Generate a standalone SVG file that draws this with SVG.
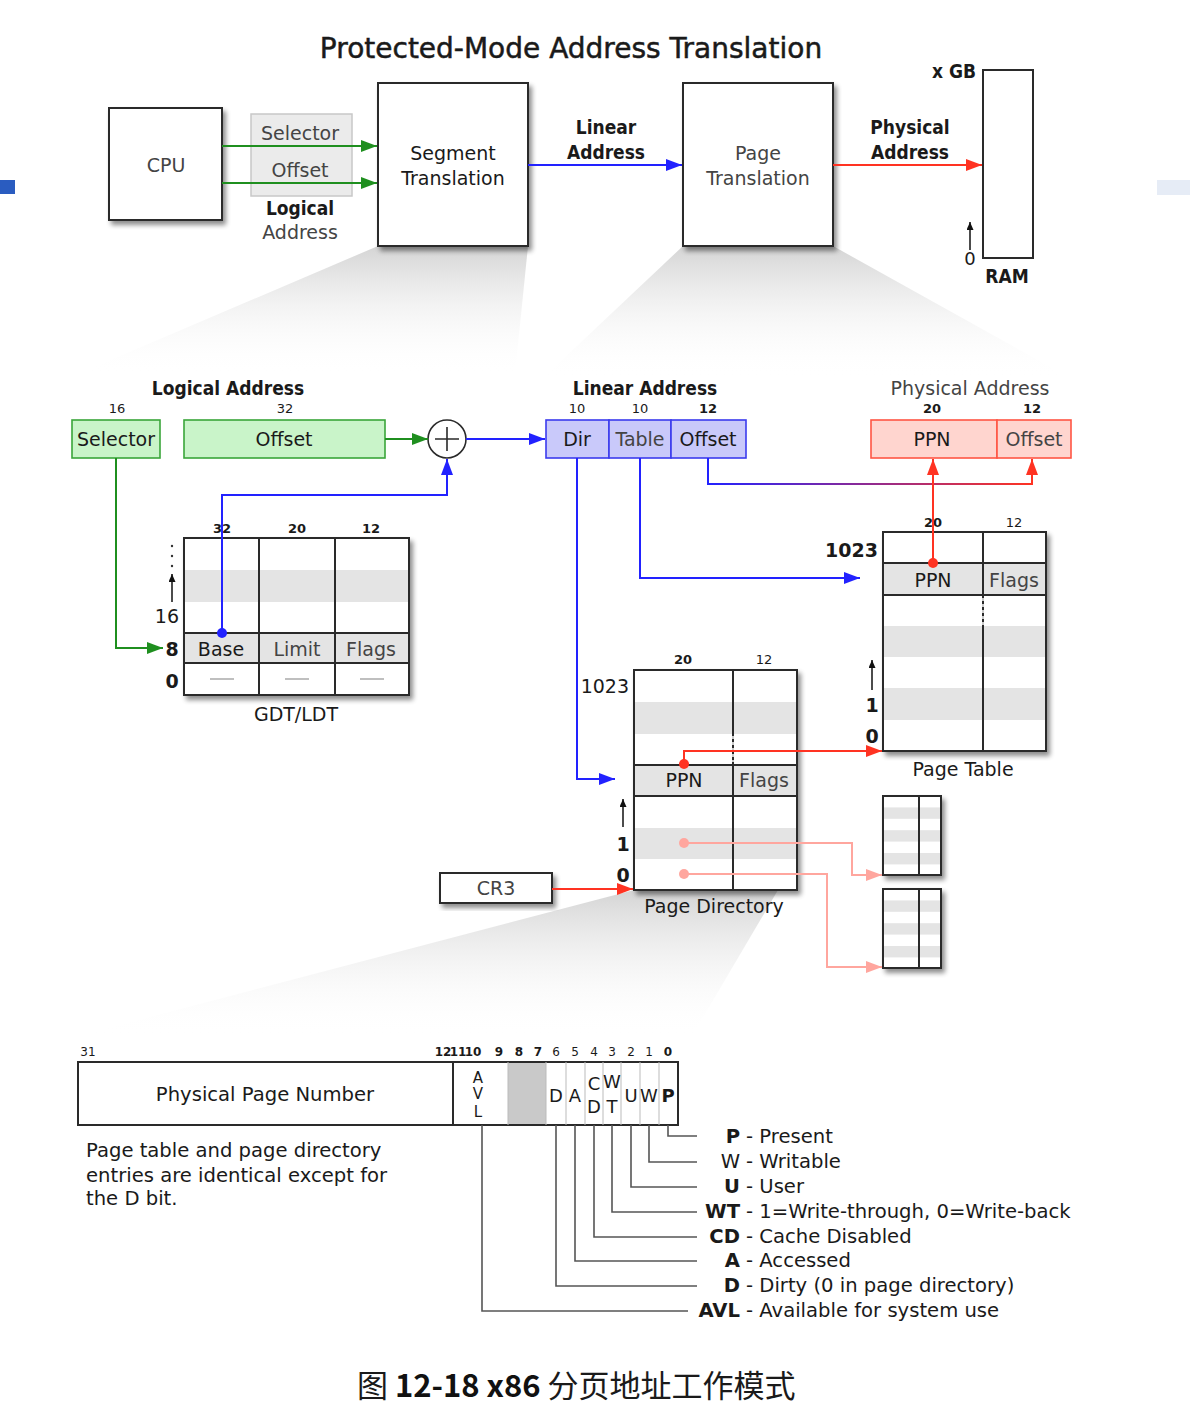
<svg xmlns="http://www.w3.org/2000/svg" width="1190" height="1408" viewBox="0 0 1190 1408">
<defs>
<style>
text{font-family:"DejaVu Sans","Liberation Sans",sans-serif;fill:#1a1a1a}
.m{text-anchor:middle}
.e{text-anchor:end}
.b{font-weight:bold}
.cb{font-family:"DejaVu Sans Condensed","DejaVu Sans",sans-serif;font-weight:bold}
.f19{font-size:19px}
.f13{font-size:13px}
.g{fill:#444}
.box{fill:#fff;stroke:#2a2a2a;stroke-width:2}
.ln{stroke:#2a2a2a;stroke-width:2;fill:none}
.band{fill:#e4e4e4}
.grn{stroke:#1f8f1f;stroke-width:2;fill:none}
.blu{stroke:#2222ff;stroke-width:2;fill:none}
.red{stroke:#ff3322;stroke-width:2;fill:none}
.pnk{stroke:#ffa69e;stroke-width:2;fill:none}
.lg{stroke:#555;stroke-width:1.6;fill:none}
.la{fill:#c9f4c9;stroke:#3aa63a;stroke-width:1.6}
.lb{fill:#c9c9fa;stroke:#3b3bee;stroke-width:1.6}
.lr{fill:#ffd5cf;stroke:#ff5544;stroke-width:1.6}
.lt{font-size:19.6px}
</style>
<filter id="sh" x="-15%" y="-15%" width="140%" height="140%">
<feGaussianBlur in="SourceAlpha" stdDeviation="2.5"/>
<feOffset dx="3" dy="4"/>
<feComponentTransfer><feFuncA type="linear" slope="0.45"/></feComponentTransfer>
<feMerge><feMergeNode/><feMergeNode in="SourceGraphic"/></feMerge>
</filter>
<linearGradient id="fade" x1="0" y1="0" x2="0" y2="1">
<stop offset="0" stop-color="#d4d4d4"/>
<stop offset="1" stop-color="#ffffff" stop-opacity="0"/>
</linearGradient>
<linearGradient id="br" gradientUnits="userSpaceOnUse" x1="708" y1="0" x2="1032" y2="0">
<stop offset="0" stop-color="#2222ff"/>
<stop offset="1" stop-color="#ff3322"/>
</linearGradient>
<marker id="aG" markerUnits="userSpaceOnUse" markerWidth="18" markerHeight="14" refX="16" refY="6" orient="auto"><path d="M0,0 L16,6 L0,12 z" fill="#1f8f1f"/></marker>
<marker id="aB" markerUnits="userSpaceOnUse" markerWidth="18" markerHeight="14" refX="16" refY="6" orient="auto"><path d="M0,0 L16,6 L0,12 z" fill="#2222ff"/></marker>
<marker id="aR" markerUnits="userSpaceOnUse" markerWidth="18" markerHeight="14" refX="16" refY="6" orient="auto"><path d="M0,0 L16,6 L0,12 z" fill="#ff3322"/></marker>
<marker id="aP" markerUnits="userSpaceOnUse" markerWidth="18" markerHeight="14" refX="16" refY="6" orient="auto"><path d="M0,0 L16,6 L0,12 z" fill="#ffa69e"/></marker>
<marker id="aK" markerUnits="userSpaceOnUse" markerWidth="10" markerHeight="10" refX="8" refY="3.5" orient="auto"><path d="M0,0 L8,3.5 L0,7 z" fill="#111"/></marker>
</defs>

<rect x="0" y="0" width="1190" height="1408" fill="#fff"/>
<rect x="0" y="180" width="15" height="14" fill="#2a5cc0"/>
<rect x="1157" y="180" width="33" height="15" fill="#e6ecf6"/>

<g id="zoom-shading">
<polygon points="378,246 528,246 515,374 78,374" fill="url(#fade)"/>
<polygon points="683,246 833,246 1070,378 543,378" fill="url(#fade)"/>
<polygon points="634,890 778,890 692,1036 78,1036" fill="url(#fade)"/>
</g>

<text x="571" y="58" class="m" font-size="28" stroke="#1a1a1a" stroke-width="0.5">Protected-Mode Address Translation</text>

<g id="cpu"><rect x="109" y="108" width="113" height="112" class="box" filter="url(#sh)"/><text x="166" y="172" class="m f19 g">CPU</text></g>
<g id="logical-top">
<rect x="251" y="114" width="101" height="82" fill="#ebebeb" stroke="#c8c8c8" stroke-width="1.5"/>
<text x="300" y="140" class="m f19 g">Selector</text>
<text x="300" y="177" class="m f19 g">Offset</text>
<text x="300" y="215" class="m f19 cb">Logical</text>
<text x="300" y="239" class="m f19 g">Address</text>
</g>
<g id="segment"><rect x="378" y="83" width="150" height="163" class="box" filter="url(#sh)"/><text x="453" y="160" class="m f19">Segment</text><text x="453" y="185" class="m f19">Translation</text></g>
<g id="linear-label"><text x="606" y="134" class="m f19 cb">Linear</text><text x="606" y="159" class="m f19 cb">Address</text></g>
<g id="paging"><rect x="683" y="83" width="150" height="163" class="box" filter="url(#sh)"/><text x="758" y="160" class="m f19 g">Page</text><text x="758" y="185" class="m f19 g">Translation</text></g>
<g id="physical-label"><text x="910" y="134" class="m f19 cb">Physical</text><text x="910" y="159" class="m f19 cb">Address</text></g>
<g id="ram">
<rect x="983" y="70" width="50" height="188" fill="#fff" stroke="#2a2a2a" stroke-width="2"/>
<text x="976" y="78" class="e f19 cb">x GB</text>
<line x1="970" y1="250" x2="970" y2="222" stroke="#111" stroke-width="1.5" marker-end="url(#aK)"/>
<text x="970" y="265" class="m" font-size="18">0</text>
<text x="1007" y="283" class="m f19 cb">RAM</text>
</g>

<g id="la-logical">
<text x="228" y="395" class="m f19 cb">Logical Address</text>
<text x="117" y="413" class="m f13">16</text>
<text x="285" y="413" class="m f13">32</text>
<rect x="72" y="420" width="88" height="38" class="la"/>
<text x="116" y="446" class="m f19">Selector</text>
<rect x="184" y="420" width="201" height="38" class="la"/>
<text x="284" y="446" class="m f19">Offset</text>
</g>
<g id="adder"><circle cx="447" cy="439" r="19" fill="#fff" stroke="#2a2a2a" stroke-width="1.6"/><path d="M435,439 H459 M447,427 V451" stroke="#2a2a2a" stroke-width="1.6"/></g>

<g id="gdt">
<rect x="184" y="538" width="225" height="157" class="box" filter="url(#sh)"/>
<rect x="185" y="570" width="223" height="32" class="band"/>
<rect x="185" y="633" width="223" height="30" class="band"/>
<path d="M184,633 H409 M184,663 H409 M259,538 V695 M335,538 V695" class="ln"/>
<path d="M210,679 H234 M285,679 H309 M360,679 H384" stroke="#aaa" stroke-width="1.5"/>
<text x="222" y="533" class="m f13 b">32</text>
<text x="297" y="533" class="m f13 b">20</text>
<text x="371" y="533" class="m f13 b">12</text>
<text x="221" y="656" class="m f19">Base</text>
<text x="297" y="656" class="m f19 g">Limit</text>
<text x="371" y="656" class="m f19 g">Flags</text>
<circle cx="172" cy="546" r="1.2" fill="#333"/><circle cx="172" cy="556" r="1.2" fill="#333"/><circle cx="172" cy="566" r="1.2" fill="#333"/>
<line x1="172" y1="602" x2="172" y2="574" stroke="#111" stroke-width="1.5" marker-end="url(#aK)"/>
<text x="179" y="623" class="e f19">16</text>
<text x="172" y="656" class="m f19 b">8</text>
<text x="172" y="688" class="m f19 b">0</text>
<text x="296" y="721" class="m f19">GDT/LDT</text>
</g>

<g id="la-linear">
<text x="645" y="395" class="m f19 cb">Linear Address</text>
<text x="577" y="413" class="m f13">10</text>
<text x="640" y="413" class="m f13">10</text>
<text x="708" y="413" class="m f13 b">12</text>
<rect x="546" y="420" width="63" height="38" class="lb"/>
<rect x="609" y="420" width="62" height="38" class="lb"/>
<rect x="671" y="420" width="75" height="38" class="lb"/>
<text x="577" y="446" class="m f19">Dir</text>
<text x="640" y="446" class="m f19 g">Table</text>
<text x="708" y="446" class="m f19">Offset</text>
</g>

<g id="la-physical">
<text x="970" y="395" class="m f19 g">Physical Address</text>
<text x="932" y="413" class="m f13 b">20</text>
<text x="1032" y="413" class="m f13 b">12</text>
<rect x="871" y="420" width="126" height="38" class="lr"/>
<rect x="997" y="420" width="74" height="38" class="lr"/>
<text x="932" y="446" class="m f19">PPN</text>
<text x="1034" y="446" class="m f19 g">Offset</text>
</g>

<g id="page-table">
<rect x="883" y="532" width="163" height="219" class="box" filter="url(#sh)"/>
<rect x="884" y="563" width="161" height="32" class="band"/>
<rect x="884" y="626" width="161" height="31" class="band"/>
<rect x="884" y="688" width="161" height="32" class="band"/>
<path d="M883,563 H1046 M883,595 H1046 M983,532 V751" class="ln"/>
<line x1="983" y1="598" x2="983" y2="625" stroke="#fff" stroke-width="1.5" stroke-dasharray="3,3"/>
<text x="933" y="527" class="m f13 b">20</text>
<text x="1014" y="527" class="m f13">12</text>
<text x="878" y="557" class="e f19 b">1023</text>
<text x="933" y="587" class="m f19">PPN</text>
<text x="1014" y="587" class="m f19 g">Flags</text>
<line x1="872" y1="690" x2="872" y2="660" stroke="#111" stroke-width="1.5" marker-end="url(#aK)"/>
<text x="872" y="712" class="m f19 b">1</text>
<text x="872" y="743" class="m f19 b">0</text>
<text x="963" y="776" class="m f19">Page Table</text>
</g>

<g id="page-directory">
<rect x="634" y="670" width="163" height="220" class="box" filter="url(#sh)"/>
<rect x="635" y="702" width="161" height="32" class="band"/>
<rect x="635" y="765" width="161" height="31" class="band"/>
<rect x="635" y="828" width="161" height="31" class="band"/>
<path d="M634,765 H797 M634,796 H797 M733,670 V890" class="ln"/>
<line x1="733" y1="736" x2="733" y2="762" stroke="#fff" stroke-width="1.5" stroke-dasharray="3,3"/>
<text x="683" y="664" class="m f13 b">20</text>
<text x="764" y="664" class="m f13">12</text>
<text x="629" y="693" class="e f19">1023</text>
<text x="684" y="787" class="m f19">PPN</text>
<text x="764" y="787" class="m f19 g">Flags</text>
<line x1="623" y1="827" x2="623" y2="799" stroke="#111" stroke-width="1.5" marker-end="url(#aK)"/>
<text x="623" y="851" class="m f19 b">1</text>
<text x="623" y="882" class="m f19 b">0</text>
<text x="714" y="913" class="m f19">Page Directory</text>
</g>

<g id="page-table-2">
<rect x="883" y="796" width="58" height="79" class="box" filter="url(#sh)"/>
<rect x="884" y="807.4" width="56" height="11.4" class="band"/>
<rect x="884" y="830.2" width="56" height="11.4" class="band"/>
<rect x="884" y="853" width="56" height="11.4" class="band"/>
<path d="M919,796 V875" class="ln"/>
</g>
<g id="page-table-3">
<rect x="883" y="889" width="58" height="79" class="box" filter="url(#sh)"/>
<rect x="884" y="900.4" width="56" height="11.4" class="band"/>
<rect x="884" y="923.2" width="56" height="11.4" class="band"/>
<rect x="884" y="946" width="56" height="11.4" class="band"/>
<path d="M919,889 V968" class="ln"/>
</g>

<g id="cr3"><rect x="440" y="873" width="112" height="30" class="box" filter="url(#sh)"/><text x="496" y="895" class="m f19 g">CR3</text></g>

<g id="connectors">
<path d="M222,146 H377" class="grn" marker-end="url(#aG)"/>
<path d="M222,183 H377" class="grn" marker-end="url(#aG)"/>
<path d="M528,165 H682" class="blu" marker-end="url(#aB)"/>
<path d="M833,165 H982" class="red" marker-end="url(#aR)"/>
<path d="M385,439 H428" class="grn" marker-end="url(#aG)"/>
<path d="M466,439 H545" class="blu" marker-end="url(#aB)"/>
<path d="M222,633 V495 H447 V459" class="blu" marker-end="url(#aB)"/>
<circle cx="222" cy="633" r="5" fill="#2222ff"/>
<path d="M116,458 V648 H163" class="grn" marker-end="url(#aG)"/>
<path d="M708,458 V484 H1032 V459" fill="none" stroke="url(#br)" stroke-width="2" marker-end="url(#aR)"/>
<path d="M933,563 V459" class="red" marker-end="url(#aR)"/>
<circle cx="933" cy="563" r="5" fill="#ff3322"/>
<path d="M640,458 V578 H860" class="blu" marker-end="url(#aB)"/>
<path d="M577,458 V779 H615" class="blu" marker-end="url(#aB)"/>
<path d="M684,764 V751 H882" class="red" marker-end="url(#aR)"/>
<circle cx="684" cy="764" r="5" fill="#ff3322"/>
<path d="M684,843 H852 V875 H882" class="pnk" marker-end="url(#aP)"/>
<circle cx="684" cy="843" r="5" fill="#ffa69e"/>
<path d="M684,874 H827 V967 H882" class="pnk" marker-end="url(#aP)"/>
<circle cx="684" cy="874" r="5" fill="#ffa69e"/>
<path d="M552,889 H633" class="red" marker-end="url(#aR)"/>
</g>

<g id="pte-format">
<text x="88" y="1056" class="m" font-size="12">31</text>
<g font-size="12" text-anchor="middle">
<text x="443" y="1056" class="b">12</text><text x="458" y="1056" class="b">11</text><text x="473" y="1056" class="b">10</text>
<text x="499" y="1056" class="b">9</text><text x="519" y="1056" class="b">8</text><text x="538" y="1056" class="b">7</text>
<text x="556" y="1056">6</text><text x="575" y="1056">5</text><text x="594" y="1056">4</text><text x="612" y="1056">3</text><text x="631" y="1056">2</text><text x="649" y="1056">1</text>
<text x="668" y="1056" class="b">0</text>
</g>
<rect x="78" y="1062" width="600" height="63" fill="#fff" stroke="#2a2a2a" stroke-width="2"/>
<rect x="508" y="1063" width="38" height="61" fill="#c9c9c9"/>
<path d="M508,1062 V1125 M546,1062 V1125 M566,1062 V1125 M585,1062 V1125 M603,1062 V1125 M621,1062 V1125 M640,1062 V1125 M659,1062 V1125" stroke="#bbb" stroke-width="1"/>
<path d="M453,1062 V1125" class="ln"/>
<text x="265" y="1101" class="m lt">Physical Page Number</text>
<g font-size="15" text-anchor="middle" fill="#333">
<text x="478" y="1083">A</text><text x="478" y="1099">V</text><text x="478" y="1117">L</text>
</g>
<g font-size="18" text-anchor="middle">
<text x="556" y="1102">D</text><text x="575" y="1102">A</text>
<text x="594" y="1090">C</text><text x="594" y="1113">D</text>
<text x="612" y="1088">W</text><text x="612" y="1113">T</text>
<text x="631" y="1102">U</text><text x="649" y="1102">W</text><text x="668" y="1102" class="b">P</text>
</g>
<text x="86" y="1157" class="lt">Page table and page directory</text>
<text x="86" y="1182" class="lt">entries are identical except for</text>
<text x="86" y="1205" class="lt">the D bit.</text>
</g>

<g id="legend">
<path d="M668,1125 V1136 H697 M649,1125 V1162 H697 M631,1125 V1187 H697 M612,1125 V1212 H697 M594,1125 V1237 H697 M575,1125 V1261 H697 M556,1125 V1286 H697 M482,1125 V1311 H688" class="lg"/>
<g class="lt">
<text x="740" y="1143" class="e b">P</text><text x="746" y="1143">- Present</text>
<text x="740" y="1168" class="e">W</text><text x="746" y="1168">- Writable</text>
<text x="740" y="1193" class="e b">U</text><text x="746" y="1193">- User</text>
<text x="740" y="1218" class="e b">WT</text><text x="746" y="1218">- 1=Write-through, 0=Write-back</text>
<text x="740" y="1243" class="e b">CD</text><text x="746" y="1243">- Cache Disabled</text>
<text x="740" y="1267" class="e b">A</text><text x="746" y="1267">- Accessed</text>
<text x="740" y="1292" class="e b">D</text><text x="746" y="1292">- Dirty (0 in page directory)</text>
<text x="740" y="1317" class="e b">AVL</text><text x="746" y="1317">- Available for system use</text>
</g>
</g>

<text x="357" y="1397" font-size="31" style="font-family:'Noto Sans CJK SC','DejaVu Sans',sans-serif" fill="#222">图 <tspan font-weight="bold" fill="#111">12-18 x86</tspan> 分页地址工作模式</text>
</svg>
